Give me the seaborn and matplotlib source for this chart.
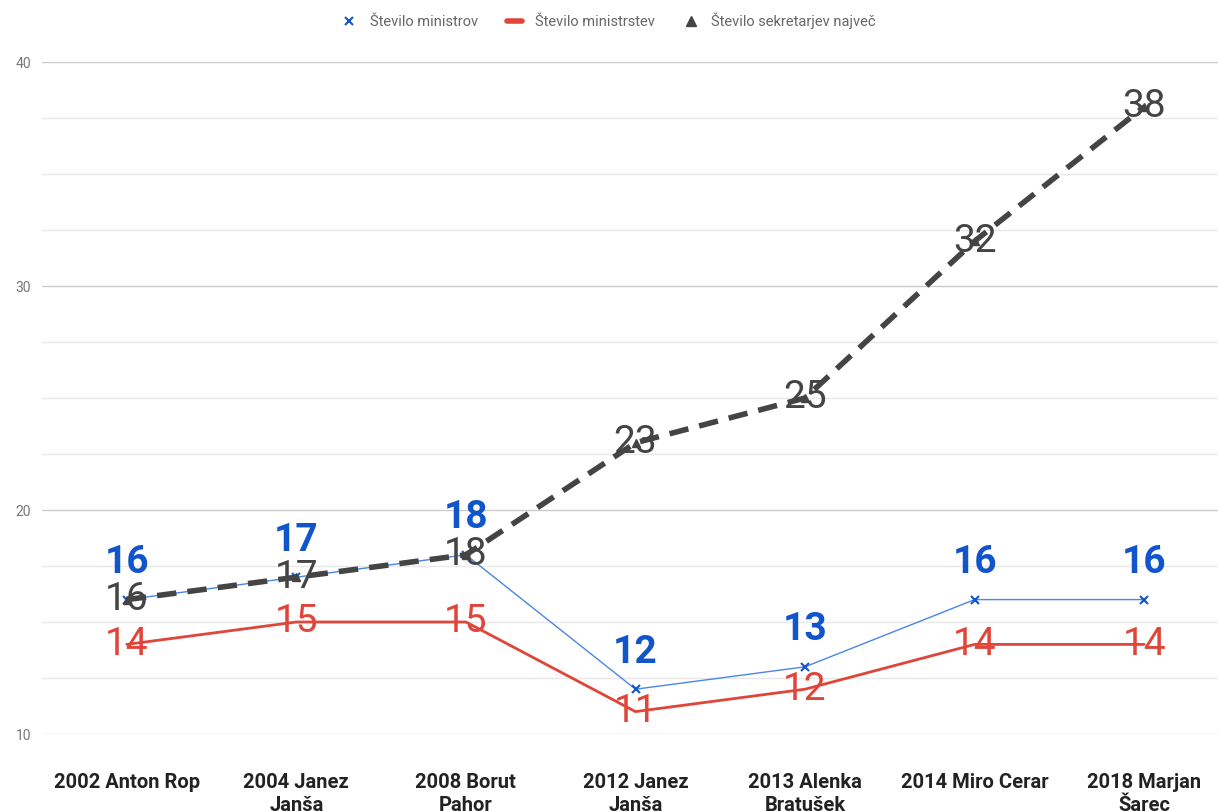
import pandas as pd
import seaborn as sns
import matplotlib.pyplot as plt
from matplotlib.lines import Line2D
from matplotlib.ticker import MultipleLocator
from matplotlib.transforms import ScaledTranslation

# podatki
vlade = ['2002 Anton Rop', '2004 Janez\nJanša', '2008 Borut\nPahor', '2012 Janez\nJanša',
         '2013 Alenka\nBratušek', '2014 Miro Cerar', '2018 Marjan\nŠarec']
ministri = [16, 17, 18, 12, 13, 16, 16]
ministrstva = [14, 15, 15, 11, 12, 14, 14]
sekretarji = [16, 17, 18, 23, 25, 32, 38]

BLUE = '#1155cc'
BLUE_LINE = '#4a86e8'
RED = '#e0453a'
GRAY = '#444444'

sns.set_style('white')
plt.rcParams['font.family'] = ['Roboto', 'DejaVu Sans']

df = pd.DataFrame({'x': range(len(vlade)), 'min': ministri, 'mstv': ministrstva, 'sek': sekretarji})

fig = plt.figure(figsize=(12.18, 8.11), dpi=100)
ax = fig.add_axes([42 / 1218, 77 / 811, 1187 / 1218, 672 / 811])

sns.lineplot(data=df, x='x', y='mstv', ax=ax, color=RED, linewidth=2, zorder=3)
sns.lineplot(data=df, x='x', y='min', ax=ax, color=BLUE_LINE, linewidth=1, marker='x',
             markersize=6, markeredgecolor=BLUE, markeredgewidth=1.5, zorder=4)
sns.lineplot(data=df, x='x', y='sek', ax=ax, color=GRAY, linewidth=4, zorder=5)
ax.lines[-1].set_dashes([3.5, 2])
ax.plot(df['x'], df['sek'], linestyle='none', marker='^', color=GRAY, markersize=6, zorder=6)

# oznake vrednosti
nad = ax.transData + ScaledTranslation(0, 0.37, fig.dpi_scale_trans)
for i in range(len(vlade)):
    ax.text(i, ministri[i], str(ministri[i]), color=BLUE, fontsize=28, fontweight='bold',
            ha='center', va='center', zorder=7, transform=nad)
    ax.text(i, ministrstva[i], str(ministrstva[i]), color=RED, fontsize=28,
            ha='center', va='center', zorder=7)
    ax.text(i, sekretarji[i], str(sekretarji[i]), color=GRAY, fontsize=28,
            ha='center', va='center', zorder=7)

ax.set_xlim(-0.5, len(vlade) - 0.5)
ax.set_ylim(10, 40)
ax.yaxis.set_major_locator(MultipleLocator(10))
ax.yaxis.set_minor_locator(MultipleLocator(2.5))
ax.grid(which='major', axis='y', color='#cccccc', linewidth=1)
ax.grid(which='minor', axis='y', color='#e8e8e8', linewidth=1)
ax.set_axisbelow(True)
ax.set_xticks(range(len(vlade)))
ax.set_xticklabels(vlade, fontsize=14.5, fontweight='bold', color='#222222', linespacing=1.25)
ax.tick_params(axis='x', length=0, pad=28)
ax.tick_params(axis='y', which='both', length=0, labelsize=10, labelcolor='#777777', pad=8)
ax.set_xlabel('')
ax.set_ylabel('')
for s in ax.spines.values():
    s.set_visible(False)

handles = [
    Line2D([], [], linestyle='none', marker='x', color=BLUE, markersize=6, markeredgewidth=1.5),
    Line2D([], [], color=RED, linewidth=4),
    Line2D([], [], linestyle='none', marker='^', color=GRAY, markersize=7),
]
labels = ['Število ministrov', 'Število ministrstev', 'Število sekretarjev največ']
fig.legend(handles, labels, loc='center', bbox_to_anchor=(0.5, 1 - 21 / 811), ncol=3, frameon=False,
           fontsize=10.5, labelcolor='#666666', handlelength=1.0, columnspacing=2.0, handletextpad=0.9)

fig.savefig('out.png', dpi=100)
